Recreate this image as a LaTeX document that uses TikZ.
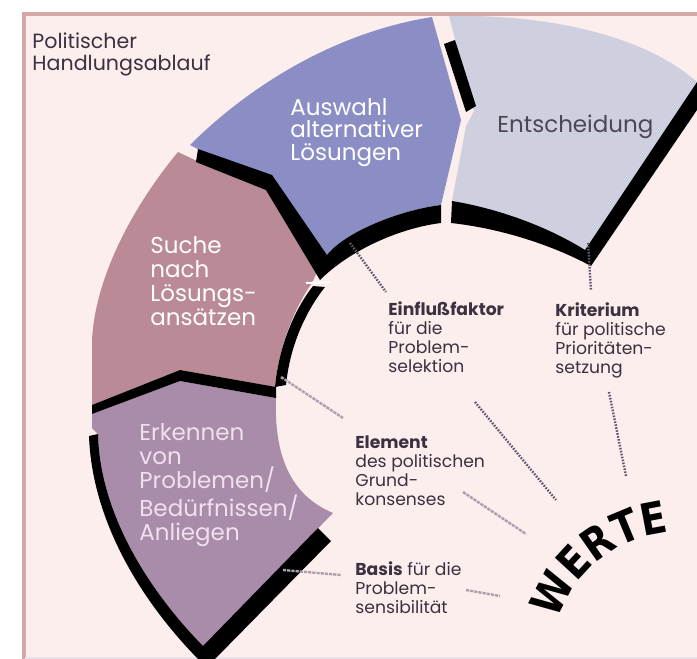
\documentclass[tikz,border=0pt]{standalone}
\usepackage{fontspec}
\setmainfont{Poppins}
\newfontfamily\wertefont{DejaVu Sans}[FakeStretch=0.87]
\usetikzlibrary{positioning,decorations.text}

\definecolor{paper}{HTML}{FCEEED}
\definecolor{rahmen}{HTML}{D5A7A5}
\definecolor{auswahlc}{HTML}{8B8EC4}
\definecolor{entschc}{HTML}{CFD0DF}
\definecolor{suchec}{HTML}{BA8B97}
\definecolor{erkennc}{HTML}{A98CA9}
\definecolor{ink}{HTML}{3B3140}
\definecolor{dotc}{HTML}{62566C}
\definecolor{greyc}{HTML}{ABA1AE}

\tikzset{
  band/.style={fill=black},
  segtext/.style={anchor=base west,inner sep=0pt,align=left,font=\fontsize{11.5}{12}\selectfont},
  lbl/.style={anchor=base west,inner sep=0pt,align=left,text=ink,font=\fontsize{8.6}{9.5}\selectfont},
  dotlink/.style={draw=dotc,line width=1.2pt,dash pattern=on 0.8pt off 0.7pt},
  greylink/.style={draw=greyc,line width=1.2pt,dash pattern=on 1.6pt off 0.5pt}
}

\begin{document}
\begin{tikzpicture}[x=0.5pt,y=-0.5pt]
\useasboundingbox (0,0) rectangle (697,659);
\fill[white] (0,0) rectangle (697,659);
\fill[paper] (24,14) rectangle (697,659);
\draw[rahmen,line width=2pt] (24,659) -- (24,14) -- (697,14);
\draw[erkennc!25,line width=1pt] (25,658) -- (697,658);

% segments
\fill[auswahlc] (190,145) .. controls (235,100) and (320,35) .. (432,17) -- (461,120) -- (441,205)
  .. controls (400,210) and (345,232) .. (327,255) -- (272,176) -- (200,150) -- cycle;
\fill[entschc] (449,16) .. controls (560,14) and (650,40) .. (697,82) -- (585,250)
  .. controls (545,225) and (495,208) .. (452,201) -- (466,126) -- (474,111) -- cycle;
\fill[suchec] (178,152) -- (197,161) -- (267,189) -- (318,270) -- (312,283)
  .. controls (295,307) and (279,345) .. (275,387) -- (180,370) -- (92,405) -- (92,340)
  .. controls (95,280) and (130,210) .. cycle;
\fill[erkennc] (92,414) -- (180,381) -- (276,398) .. controls (274,455) and (290,495) .. (333,513)
  -- (203,646) .. controls (150,592) and (100,515) .. (98,434) -- (92,428) -- cycle;

% black bands
\fill[band] (198,149) -- (272,175) -- (327,255) .. controls (345,232) and (400,210) .. (441,205)
  -- (441,223) .. controls (400,228) and (350,250) .. (320,280) -- (266,190) -- (196,162) -- cycle;
\fill[band] (444,44) -- (455,40) -- (476,106) -- (466,112) -- cycle;
\fill[band] (697,82) -- (585,250) .. controls (545,225) and (495,208) .. (452,201)
  -- (451,223) .. controls (497,228) and (548,243) .. (591,266) -- (697,110) -- cycle;
\fill[band] (313,286) .. controls (295,309) and (279,345) .. (275,387)
  -- (286,385) .. controls (290,345) and (306,311) .. (325,287) -- cycle;
\fill[band] (92,405) -- (180,370) -- (276,387) -- (276,398) -- (180,381) -- (92,414) -- cycle;
\fill[band] (98,434) .. controls (100,515) and (150,592) .. (203,646) -- (318,528) -- (331,541)
  -- (214,660) -- (199,660) .. controls (140,600) and (92,520) .. (89,436) -- cycle;
\draw[white,line width=1pt] (306,283) -- (330,282);

% texts
\node[anchor=base west,inner sep=0pt,align=left,text=ink,font=\fontsize{10.3}{11}\selectfont]
  (titel) at (32,70) {Politischer\\Handlungsablauf};
\node[segtext,text=white,font=\fontsize{11.5}{11.25}\selectfont] (ausw) at (290,160) {Auswahl\\alternativer\\Lösungen};
\node[segtext,text=ink!90] (ents) at (497,132) {Entscheidung};
\node[segtext,text=white] (suche) at (150,325) {Suche\\nach\\Lösungs-\\ansätzen};
\node[segtext,text=white!88!violet] (erk) at (139,540) {Erkennen\\von\\Problemen/\\Bedürfnissen/\\Anliegen};

\node[lbl] (ein) at (388,372) {\textbf{Einflußfaktor}\\für die\\Problem-\\selektion};
\node[lbl] (krit) at (555,373) {\textbf{Kriterium}\\für politische\\Prioritäten-\\setzung};
\node[lbl] (elem) at (355,505) {\textbf{Element}\\des politischen\\Grund-\\konsenses};
\node[lbl] (basis) at (355,613) {\textbf{Basis} für die\\Problem-\\sensibilität};

% WERTE
\coordinate (werte) at (680,660);
\path[decorate,decoration={text along path,text align=center,
    text={|\wertefont\bfseries\fontsize{22}{22}\selectfont|WERTE}}]
  (werte) ++(173.5:64pt) arc[start angle=173.5,end angle=83.5,radius=64pt];

% connectors
\coordinate (ausw-pin) at (350,243);
\coordinate (ein-top) at (386,292);
\coordinate (ein-out) at (475,402);
\coordinate (werte-a) at (556,500);
\coordinate (ents-pin) at (588,243);
\coordinate (krit-top) at (591,290);
\coordinate (krit-out) at (609,392);
\coordinate (werte-b) at (626,476);
\coordinate (suche-pin) at (281,377);
\coordinate (elem-top) at (343,418);
\coordinate (elem-out) at (463,492);
\coordinate (werte-c) at (526,534);
\coordinate (erk-pin) at (283,570);
\coordinate (basis-in) at (341,575);
\coordinate (basis-out) at (466,590);
\coordinate (werte-d) at (500,596);

\draw[dotlink] (ausw-pin) -- (ein-top);
\draw[dotlink] (ein-out) -- (werte-a);
\draw[dotlink] (ents-pin) -- (krit-top);
\draw[dotlink] (krit-out) -- (werte-b);
\draw[greylink] (suche-pin) -- (elem-top);
\draw[greylink] (elem-out) -- (werte-c);
\draw[greylink] (erk-pin) -- (basis-in);
\draw[greylink] (basis-out) -- (werte-d);
\end{tikzpicture}
\end{document}
